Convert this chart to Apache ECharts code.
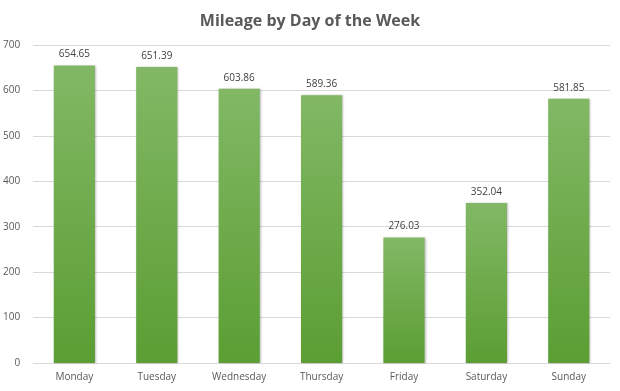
<!DOCTYPE html>
<html><head><meta charset="utf-8">
<script src="https://cdn.jsdelivr.net/npm/echarts@6/dist/echarts.min.js"></script>
<style>html,body{margin:0;padding:0;background:#fff}#c{width:620px;height:391px}</style>
</head><body><div id="c"></div>
<script>
const categories = ["Monday","Tuesday","Wednesday","Thursday","Friday","Saturday","Sunday"];
const mileage = [654.65, 651.39, 603.86, 589.36, 276.03, 352.04, 581.85];
const yTicks = [0,100,200,300,400,500,600,700];

const chart = echarts.init(document.getElementById('c'), null, {renderer:'canvas'});
chart.setOption({
  animation:false,
  title:{text:'Mileage by Day of the Week',left:'center',top:8,
    textStyle:{fontFamily:'Open Sans',fontWeight:'bold',fontSize:16,color:'#595959'}},
  grid:{left:33,right:10,top:45,bottom:28,containLabel:false},
  xAxis:{type:'category',data:categories,
    axisLine:{lineStyle:{color:'#d9d9d9'}},axisTick:{show:false},
    axisLabel:{color:'#595959',fontFamily:'Open Sans',fontSize:10,margin:9}},
  yAxis:{type:'value',min:yTicks[0],max:yTicks[yTicks.length-1],interval:100,
    axisLine:{show:false},axisTick:{show:false},
    splitLine:{lineStyle:{color:'#d9d9d9'}},
    axisLabel:{color:'#595959',fontFamily:'Open Sans',fontSize:10,margin:13}},
  series:[{type:'bar',data:mileage,barWidth:'50%',
    itemStyle:{color:new echarts.graphic.LinearGradient(0,0,0,1,[{offset:0,color:'#82b865'},{offset:1,color:'#5b9e33'}]),
      shadowColor:'rgba(0,0,0,0.25)',shadowBlur:2,shadowOffsetX:1,shadowOffsetY:0},
    label:{show:true,position:'top',distance:6,color:'#404040',fontFamily:'Open Sans',fontSize:10,
      formatter:p=>p.value.toFixed(2)}}]
});
</script></body></html>
